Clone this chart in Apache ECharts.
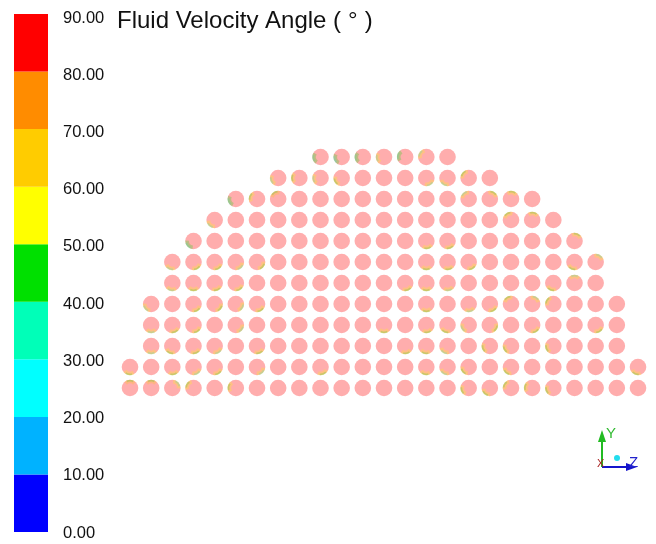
<!DOCTYPE html>
<html>
<head>
<meta charset="utf-8">
<script src="https://cdn.jsdelivr.net/npm/echarts@6/dist/echarts.min.js"></script>
<style>
  html, body { margin: 0; padding: 0; background: #ffffff; }
  #chart { width: 656px; height: 544px; }
</style>
</head>
<body>
<div id="chart"></div>
<script>
// Legend bands of the contour scale (degrees)
var bandEdges = [0, 10, 20, 30, 40, 50, 60, 70, 80, 90];
var bandColors = ['#0000FF', '#00B2FF', '#00FFFF', '#00FFB8', '#00E000',
                  '#FFFF00', '#FFCC00', '#FF8C00', '#FF0000'];

// Number of sampling points in each row of the half section, bottom row first
var rowCounts = [25, 25, 23, 23, 23, 21, 21, 19, 17, 15, 11, 7];
var centerColumn = 12;

// Dominant angle of every sampling point (degrees)
var baseAngle = 90;

// Points whose edge carries lower angles: [column, row, direction of patch (deg), angle]
var patchCells = [
  [9, 11, 190, 50], [10, 11, 200, 45], [11, 11, 185, 50], [12, 11, 190, 55], [13, 11, 170, 50], [14, 11, 150, 55],
  [7, 10, 200, 55], [8, 10, 180, 60], [9, 10, 190, 55], [10, 10, 210, 60], [14, 10, 300, 55], [15, 10, 240, 55], [16, 10, 140, 60],
  [5, 9, 200, 50], [6, 9, 160, 60], [7, 9, 120, 65], [16, 9, 130, 55], [17, 9, 60, 60], [18, 9, 80, 60],
  [4, 8, 230, 55], [19, 8, 80, 60], [18, 8, 120, 60],
  [3, 7, 220, 50], [21, 7, 70, 60], [15, 7, 290, 60], [14, 7, 280, 60],
  [2, 6, 250, 55], [3, 6, 300, 60], [4, 6, 300, 60], [5, 6, 310, 55], [6, 6, 320, 60], [14, 6, 270, 60], [15, 6, 280, 60], [16, 6, 300, 60], [21, 6, 250, 60], [22, 6, 60, 55],
  [2, 5, 260, 55], [3, 5, 270, 60], [4, 5, 290, 60], [5, 5, 300, 60], [13, 5, 290, 60], [14, 5, 270, 60], [15, 5, 280, 55], [20, 5, 250, 60], [21, 5, 90, 55],
  [1, 4, 220, 55], [3, 4, 300, 60], [4, 4, 320, 60], [5, 4, 330, 55], [6, 4, 300, 60], [14, 4, 270, 60], [16, 4, 280, 55], [17, 4, 300, 60], [18, 4, 120, 60], [19, 4, 60, 55], [20, 4, 150, 60],
  [1, 3, 270, 55], [2, 3, 290, 60], [3, 3, 300, 60], [5, 3, 320, 55], [12, 3, 270, 60], [14, 3, 280, 60], [15, 3, 250, 60], [16, 3, 210, 55], [17, 3, 330, 60], [19, 3, 300, 60], [22, 3, 300, 60],
  [1, 2, 270, 55], [2, 2, 250, 60], [3, 2, 290, 60], [4, 2, 300, 55], [6, 2, 290, 60], [13, 2, 280, 60], [14, 2, 260, 60], [15, 2, 240, 55], [17, 2, 200, 60], [18, 2, 210, 60], [20, 2, 200, 60],
  [0, 1, 260, 60], [2, 1, 280, 60], [3, 1, 300, 55], [4, 1, 300, 60], [6, 1, 310, 55], [9, 1, 290, 60], [14, 1, 260, 60], [15, 1, 240, 55], [16, 1, 220, 60], [18, 1, 230, 60], [24, 1, 250, 60],
  [0, 0, 90, 65], [1, 0, 90, 65], [2, 0, 40, 55], [3, 0, 150, 60], [5, 0, 170, 60], [16, 0, 200, 60], [17, 0, 230, 60], [18, 0, 150, 60], [19, 0, 170, 60], [20, 0, 200, 60]
];

// Sampling points laid out on the regular lattice of the section
var points = [];
rowCounts.forEach(function (n, row) {
  var first = centerColumn - (n - 1) / 2;
  for (var i = 0; i < n; i++) {
    points.push([first + i, row, baseAngle]);
  }
});

var chart = echarts.init(document.getElementById('chart'), null, { renderer: 'canvas' });

function bandColor(v) {
  for (var i = 0; i < bandColors.length; i++) {
    if (v <= bandEdges[i + 1]) return bandColors[i];
  }
  return bandColors[bandColors.length - 1];
}

// Contour colours are shown washed out, as a translucent overlay on white
var markerOpacity = 0.32;
var markerRadius = 8.3;
var labelFont = 'Liberation Sans, Arial, sans-serif';

var bandSeries = bandColors.map(function (c, i) {
  return {
    type: 'bar',
    xAxisIndex: 0,
    yAxisIndex: 0,
    stack: 'scale',
    barWidth: '100%',
    silent: true,
    itemStyle: { color: c },
    data: [bandEdges[i + 1] - bandEdges[i]]
  };
});

var titleStyle = { fontFamily: labelFont, fontSize: 24, fontWeight: 'normal', color: '#111111' };

var option = {
  animation: false,
  backgroundColor: '#ffffff',
  title: {
    text: '{t|Fluid Velocity Angle }{p|(}{d|\u00B0}{p|)}',
    left: 112,
    top: 4,
    textStyle: {
      fontWeight: 'normal',
      rich: {
        t: titleStyle,
        p: titleStyle,
        d: Object.assign({ padding: [0, 7, 0, 7] }, titleStyle)
      }
    }
  },
  grid: [
    { left: 14, width: 34, top: 14, bottom: 12 },
    { left: 130, right: 18, top: 157, bottom: 156 },
    { left: 14, width: 34, top: 18, bottom: 11 }
  ],
  xAxis: [
    { type: 'category', gridIndex: 0, data: ['scale'], show: false },
    { type: 'value', gridIndex: 1, min: 0, max: 24, show: false },
    { type: 'value', gridIndex: 2, min: 0, max: 1, show: false }
  ],
  yAxis: [
    { type: 'value', gridIndex: 0, min: 0, max: 90, show: false },
    { type: 'value', gridIndex: 1, min: 0, max: 11, show: false },
    {
      type: 'value', gridIndex: 2, min: 0, max: 90, interval: 10, position: 'right',
      axisLine: { show: false }, axisTick: { show: false }, splitLine: { show: false },
      axisLabel: {
        margin: 15,
        fontSize: 16.5,
        color: '#111111',
        fontFamily: labelFont,
        formatter: function (v) { return v.toFixed(2); }
      }
    }
  ],
  series: bandSeries.concat([
    {
      type: 'custom',
      xAxisIndex: 1,
      yAxisIndex: 1,
      silent: true,
      data: points,
      renderItem: function (params, api) {
        var c = api.coord([api.value(0), api.value(1)]);
        return {
          type: 'circle',
          shape: { cx: c[0], cy: c[1], r: markerRadius },
          style: { fill: bandColor(api.value(2)), opacity: markerOpacity }
        };
      }
    },
    {
      type: 'custom',
      xAxisIndex: 1,
      yAxisIndex: 1,
      silent: true,
      data: patchCells,
      renderItem: function (params, api) {
        var c = api.coord([api.value(0), api.value(1)]);
        var dir = -api.value(2) * Math.PI / 180;
        var span = 0.75;
        var v = api.value(3);
        return {
          type: 'group',
          children: [
            {
              type: 'sector',
              shape: { cx: c[0], cy: c[1], r0: 4.5, r: markerRadius, startAngle: dir - span, endAngle: dir + span },
              style: { fill: bandColor(v), opacity: 0.24 }
            },
            {
              type: 'sector',
              shape: { cx: c[0], cy: c[1], r0: 6.5, r: markerRadius, startAngle: dir - span * 0.6, endAngle: dir + span * 0.6 },
              style: { fill: bandColor(v - 15), opacity: 0.2 }
            }
          ]
        };
      }
    }
  ]),
  graphic: [
    // orientation triad
    { type: 'line', shape: { x1: 602, y1: 467, x2: 602, y2: 440 }, style: { stroke: '#22BB22', lineWidth: 2 } },
    { type: 'polygon', shape: { points: [[598, 442], [606, 442], [602, 430]] }, style: { fill: '#22BB22' } },
    { type: 'line', shape: { x1: 602, y1: 467, x2: 628, y2: 467 }, style: { stroke: '#1515CC', lineWidth: 2 } },
    { type: 'polygon', shape: { points: [[626, 463], [626, 471], [637, 467]] }, style: { fill: '#1515CC' } },
    { type: 'text', x: 606, y: 426, style: { text: 'Y', fill: '#33BB33', font: '15px Liberation Sans, Arial, sans-serif' } },
    { type: 'text', x: 629, y: 455, style: { text: 'Z', fill: '#2222CC', font: '15px Liberation Sans, Arial, sans-serif' } },
    { type: 'text', x: 597, y: 458, style: { text: 'X', fill: '#AA2222', font: '11px Liberation Sans, Arial, sans-serif' } },
    { type: 'circle', shape: { cx: 617, cy: 458, r: 3 }, style: { fill: '#22DDEE' } }
  ]
};

chart.setOption(option);
</script>
</body>
</html>
